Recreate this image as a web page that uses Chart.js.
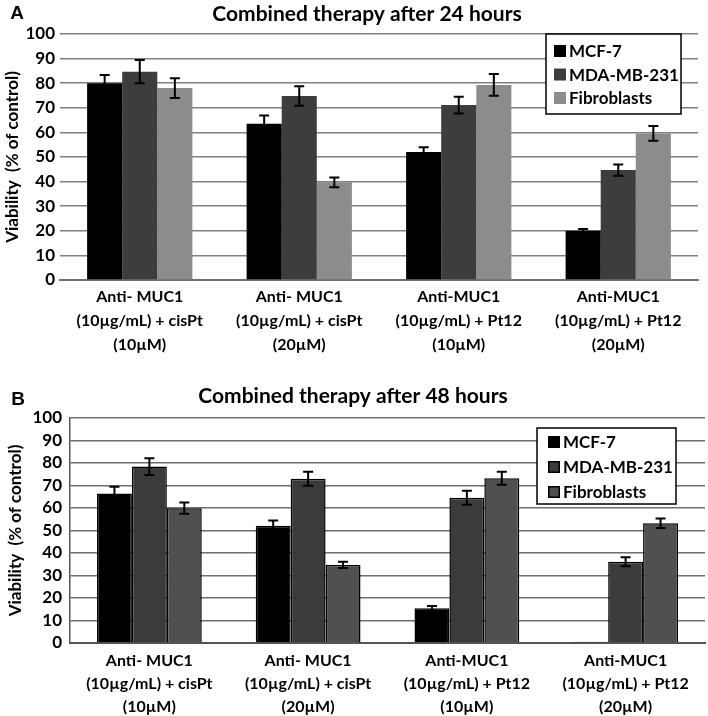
<!DOCTYPE html>
<html>
<head>
<meta charset="utf-8">
<script src="https://cdn.jsdelivr.net/npm/chart.js@4"></script>
<style>
  body { margin: 0; background: #fff; }
  .panel { position: absolute; left: 0; width: 708px; }
</style>
</head>
<body>
<div class="panel" style="top:0;height:356px"><canvas id="chartA"></canvas></div>
<div class="panel" style="top:356px;height:360px"><canvas id="chartB"></canvas></div>
<script>
// categories shared by both panels
var categories = [
  ["Anti- MUC1", "(10\u00b5g/mL) + cisPt", "(10\u00b5M)"],
  ["Anti- MUC1", "(10\u00b5g/mL) + cisPt", "(20\u00b5M)"],
  ["Anti-MUC1", "(10\u00b5g/mL) + Pt12", "(10\u00b5M)"],
  ["Anti-MUC1", "(10\u00b5g/mL) + Pt12", "(20\u00b5M)"]
];
var seriesNames = ["MCF-7", "MDA-MB-231", "Fibroblasts"];

// panel A, 24 hours
var mcf24 = [80, 63.5, 52, 20];
var mda24 = [84.7, 74.8, 71.1, 44.7];
var fib24 = [78, 39.7, 79.3, 59.6];
var mcf24Err = [3.3, 3.4, 2, 0.7];
var mda24Err = [4.7, 4, 3.4, 2.3];
var fib24Err = [4, 2, 4.4, 3];

// panel B, 48 hours
var mcf48 = [66.5, 52.1, 15.4, 0.6];
var mda48 = [78.4, 73, 64.6, 36.1];
var fib48 = [59.9, 34.7, 73.2, 53.2];
var mcf48Err = [3, 2.4, 1, 0];
var mda48Err = [3.7, 3.1, 3.1, 2];
var fib48Err = [2.5, 1.4, 2.9, 2.1];

var yTicks = { min: 0, max: 100, step: 10 };

var FONT = "Lato, 'Open Sans', sans-serif";

// error bars from the bar elements + y scale
var errorBars = {
  id: 'errorBars',
  afterDatasetsDraw: function(chart) {
    var ctx = chart.ctx;
    var y = chart.scales.y;
    ctx.save();
    ctx.strokeStyle = '#000';
    ctx.lineWidth = 2;
    chart.data.datasets.forEach(function(ds, i) {
      if (!ds.errors) return;
      var meta = chart.getDatasetMeta(i);
      meta.data.forEach(function(bar, j) {
        var e = ds.errors[j];
        if (!e) return;
        var v = ds.data[j];
        var top = y.getPixelForValue(v + e);
        var bot = y.getPixelForValue(v - e);
        ctx.beginPath();
        ctx.moveTo(bar.x, top); ctx.lineTo(bar.x, bot);
        ctx.moveTo(bar.x - 5, top); ctx.lineTo(bar.x + 5, top);
        ctx.moveTo(bar.x - 5, bot); ctx.lineTo(bar.x + 5, bot);
        ctx.stroke();
      });
    });
    ctx.restore();
  }
};

// panel letter + title
var panelTitle = {
  id: 'panelTitle',
  afterDraw: function(chart, args, opts) {
    var ctx = chart.ctx;
    ctx.save();
    ctx.fillStyle = '#000';
    ctx.textBaseline = 'middle';
    ctx.textAlign = 'center';
    ctx.font = "bold 21px " + FONT;
    ctx.fillText(opts.text, opts.x, opts.y);
    ctx.font = "bold 19px 'Liberation Sans', Arial, sans-serif";
    ctx.fillText(opts.letter, opts.letterX, opts.letterY);
    ctx.restore();
  }
};

// boxed legend sitting inside the plot
var boxLegend = {
  id: 'boxLegend',
  afterDraw: function(chart, args, o) {
    var ctx = chart.ctx;
    ctx.save();
    ctx.fillStyle = '#fff';
    ctx.fillRect(o.left, o.top, o.width, o.height);
    ctx.strokeStyle = '#000';
    ctx.lineWidth = 1.5;
    ctx.strokeRect(o.left, o.top, o.width, o.height);
    ctx.font = "bold 17px " + FONT;
    ctx.textBaseline = 'middle';
    ctx.textAlign = 'left';
    chart.data.datasets.forEach(function(ds, i) {
      var cy = o.top + o.first + i * o.gap;
      ctx.fillStyle = ds.backgroundColor;
      ctx.fillRect(o.boxX, cy - 6, 12, 12);
      if (ds.borderWidth) {
        ctx.lineWidth = 1.5;
        ctx.strokeStyle = ds.borderColor;
        ctx.strokeRect(o.boxX + 0.75, cy - 5.25, 10.5, 10.5);
      }
      ctx.fillStyle = '#000';
      ctx.fillText(ds.label, o.boxX + 15, cy + 1);
    });
    ctx.restore();
  }
};

function makeChart(id, sets, p) {
  var datasets = sets.map(function(s, i) {
    return {
      label: seriesNames[i],
      data: s.data,
      errors: s.err,
      backgroundColor: s.color,
      borderColor: '#000',
      borderWidth: p.barBorder,
      barPercentage: 1.0,
      categoryPercentage: 0.66
    };
  });
  return new Chart(document.getElementById(id), {
    type: 'bar',
    data: { labels: categories, datasets: datasets },
    plugins: [errorBars, panelTitle, boxLegend],
    options: {
      responsive: true,
      maintainAspectRatio: false,
      animation: false,
      layout: { padding: { top: p.top, right: p.right, left: 0, bottom: 0 } },
      plugins: {
        legend: { display: false },
        tooltip: { enabled: false },
        panelTitle: p.title,
        boxLegend: p.legend
      },
      scales: {
        x: {
          grid: { display: false, drawTicks: false },
          border: { display: true, color: p.axisColor, width: 2 },
          ticks: {
            color: '#000',
            padding: p.xPad,
            maxRotation: 0,
            autoSkip: false,
            font: { family: FONT, size: 16, weight: 'bold', lineHeight: p.xLine }
          },
          afterFit: function(s) { s.height = p.xHeight; }
        },
        y: {
          min: yTicks.min,
          max: yTicks.max,
          ticks: {
            stepSize: yTicks.step,
            autoSkip: false,
            color: '#000',
            padding: p.yPad,
            font: { family: FONT, size: 17, weight: 'bold' }
          },
          grid: { color: p.gridColor, lineWidth: 1.5, drawTicks: false },
          border: { display: p.leftBorder, color: p.axisColor, width: 1.5 },
          title: {
            display: true,
            text: 'Viability  (% of control)',
            color: '#000',
            padding: { top: p.yTitlePad, bottom: 0 },
            font: { family: FONT, size: 17, weight: 'bold' }
          },
          afterFit: function(s) { s.width = p.yWidth; }
        }
      }
    }
  });
}

makeChart('chartA', [
  { data: mcf24, err: mcf24Err, color: '#000000' },
  { data: mda24, err: mda24Err, color: '#3d3d3d' },
  { data: fib24, err: fib24Err, color: '#8c8c8c' }
], {
  top: 34, right: 10, yWidth: 60, xHeight: 76, xPad: 5, xLine: 1.5, yPad: 5, yTitlePad: 2,
  barBorder: 0, gridColor: '#808080', axisColor: '#707070', leftBorder: false,
  title: { text: 'Combined therapy after 24 hours', x: 367, y: 14, letter: 'A', letterX: 17, letterY: 14 },
  legend: { left: 546, top: 34, width: 135, height: 80, first: 17, gap: 23.5, boxX: 554 }
});

makeChart('chartB', [
  { data: mcf48, err: mcf48Err, color: '#000000' },
  { data: mda48, err: mda48Err, color: '#3b3b3b' },
  { data: fib48, err: fib48Err, color: '#505050' }
], {
  top: 62, right: 3, yWidth: 70, xHeight: 73, xPad: 6, xLine: 1.45, yPad: 8, yTitlePad: 5,
  barBorder: 1.5, gridColor: '#6e6e6e', axisColor: '#555555', leftBorder: true,
  title: { text: 'Combined therapy after 48 hours', x: 353, y: 40, letter: 'B', letterX: 18, letterY: 44 },
  legend: { left: 537, top: 72, width: 139, height: 76, first: 14, gap: 25, boxX: 548 }
});
</script>
</body>
</html>
